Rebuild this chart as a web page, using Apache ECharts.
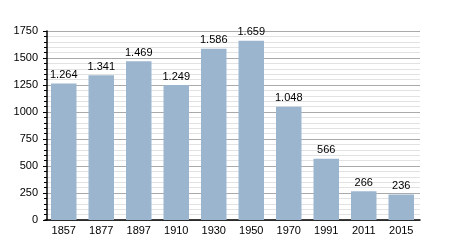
<!DOCTYPE html>
<html><head><meta charset="utf-8">
<script src="https://cdn.jsdelivr.net/npm/echarts@6/dist/echarts.min.js"></script>
<style>html,body{margin:0;padding:0;background:#fff}#c{width:450px;height:250px}</style>
</head><body><div id="c"></div>
<script>
const years = ['1857','1877','1897','1910','1930','1950','1970','1991','2011','2015'];
const population = [1264,1341,1469,1249,1586,1659,1048,566,266,236];
const yTicks = [0,250,500,750,1000,1250,1500,1750];

function fmt(v){ return String(v).replace(/\B(?=(\d{3})+(?!\d))/g,'.'); }

const chart = echarts.init(document.getElementById('c'), null, {renderer:'canvas'});
chart.setOption({
  animation:false,
  textStyle:{fontFamily:'Liberation Sans, Arial, sans-serif'},
  grid:{left:45,right:30,top:31,bottom:30,containLabel:false},
  xAxis:{
    type:'category', data:years,
    axisLine:{lineStyle:{color:'#000',width:1.5}},
    axisTick:{show:false},
    axisLabel:{color:'#000',fontSize:11,margin:5}
  },
  yAxis:{
    type:'value', min:yTicks[0], max:yTicks[yTicks.length-1], interval:250, offset:-2,
    axisLine:{show:true,lineStyle:{color:'#000',width:1.5}},
    axisTick:{show:true,inside:false,length:4,lineStyle:{color:'#000'}},
    minorTick:{show:true,splitNumber:5,length:3,lineStyle:{color:'#000'}},
    axisLabel:{color:'#000',fontSize:11,margin:9,formatter:v=>String(v)},
    splitLine:{show:true,lineStyle:{color:'#aaa',width:1}},
    minorSplitLine:{show:true,lineStyle:{color:'#e2e2e2',width:1}}
  },
  series:[{
    type:'bar', data:population, barWidth:25.5,
    itemStyle:{color:'#9bb5cf'},
    label:{show:true,position:'top',color:'#000',fontSize:11,distance:3,formatter:p=>fmt(p.value)}
  }]
});
</script></body></html>
